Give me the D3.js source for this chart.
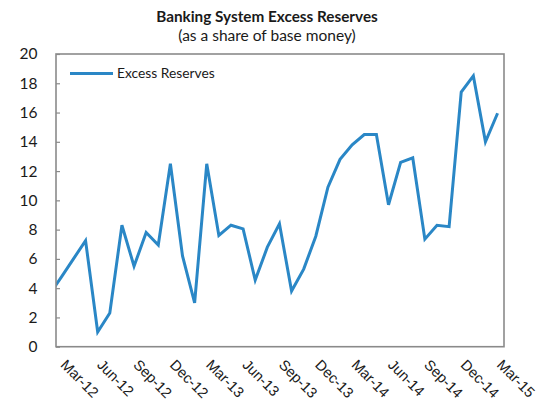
<!DOCTYPE html>
<html>
<head>
<meta charset="utf-8">
<script src="https://cdn.jsdelivr.net/npm/d3@7"></script>
<style>
  html, body { margin: 0; padding: 0; background: #fff; }
  svg { display: block; font-family: Lato, "Open Sans", sans-serif; }
</style>
</head>
<body>
<svg id="chart" width="539" height="413"></svg>
<script>
// Monthly observations; the first (Feb-12) sits just left of the axis and is clipped.
const months = [
  "Feb-12","Mar-12","Apr-12","May-12","Jun-12","Jul-12","Aug-12","Sep-12","Oct-12","Nov-12","Dec-12",
  "Jan-13","Feb-13","Mar-13","Apr-13","May-13","Jun-13","Jul-13","Aug-13","Sep-13","Oct-13","Nov-13","Dec-13",
  "Jan-14","Feb-14","Mar-14","Apr-14","May-14","Jun-14","Jul-14","Aug-14","Sep-14","Oct-14","Nov-14","Dec-14",
  "Jan-15","Feb-15","Mar-15"
];
const excessReserves = [
  3.55, 4.75, 6.0, 7.25, 1.0, 2.3, 8.3, 5.5, 7.8, 6.95, 12.5,
  6.2, 3.0, 12.5, 7.6, 8.3, 8.05, 4.55, 6.8, 8.4, 3.8, 5.3, 7.55,
  10.9, 12.8, 13.8, 14.5, 14.5, 9.7, 12.6, 12.9, 7.35, 8.3, 8.2, 17.4,
  18.5, 14.0, 15.95
];
const xTickLabels = ["Mar-12","Jun-12","Sep-12","Dec-12","Mar-13","Jun-13","Sep-13","Dec-13","Mar-14","Jun-14","Sep-14","Dec-14","Mar-15"];
const yTicks = [0, 2, 4, 6, 8, 10, 12, 14, 16, 18, 20];
const seriesName = "Excess Reserves";

const svg = d3.select("#chart");
const plot = { left: 56, right: 504, top: 54, bottom: 346.7 };
const lineColor = "#2a87c6";
const textColor = "#1a1a1a";

// month position: index in the months array, Mar-12 = 1
const x = d3.scaleLinear().domain([0.56, 37.53]).range([plot.left, plot.right]);
const y = d3.scaleLinear().domain([0, 20]).range([plot.bottom, plot.top]);

// Titles
svg.append("text")
  .attr("x", 267).attr("y", 21.5)
  .attr("text-anchor", "middle")
  .attr("font-weight", "bold").attr("font-size", 15.3)
  .attr("fill", textColor)
  .text("Banking System Excess Reserves");
svg.append("text")
  .attr("x", 267).attr("y", 40.5)
  .attr("text-anchor", "middle")
  .attr("font-size", 15.5)
  .attr("fill", textColor)
  .text("(as a share of base money)");

// Clip for the series
svg.append("clipPath").attr("id", "plot-clip")
  .append("rect")
  .attr("x", plot.left).attr("y", plot.top)
  .attr("width", plot.right - plot.left).attr("height", plot.bottom - plot.top);

// Line
const line = d3.line()
  .x((d, i) => x(i))
  .y(d => y(d));
svg.append("path")
  .datum(excessReserves)
  .attr("clip-path", "url(#plot-clip)")
  .attr("fill", "none")
  .attr("stroke", lineColor)
  .attr("stroke-width", 3)
  .attr("stroke-linejoin", "miter")
  .attr("d", line);

// Plot frame
svg.append("rect")
  .attr("x", plot.left).attr("y", plot.top)
  .attr("width", plot.right - plot.left).attr("height", plot.bottom - plot.top)
  .attr("fill", "none")
  .attr("stroke", "#8a8a8a")
  .attr("stroke-width", 1.6);

// Y axis: inside ticks, labels to the left
const yAxis = svg.append("g")
  .attr("transform", `translate(${plot.left},0)`)
  .call(d3.axisLeft(y).tickValues(yTicks).tickSizeInner(-4).tickSizeOuter(0).tickPadding(18.5));
yAxis.select(".domain").remove();
yAxis.selectAll(".tick line").attr("stroke", "#8a8a8a").attr("stroke-width", 1.2);
yAxis.selectAll(".tick text")
  .attr("font-size", 15.5).attr("fill", textColor)
  .style("font-family", "Lato, sans-serif");

// X axis: rotated month labels every quarter
const xAxis = svg.append("g")
  .attr("transform", `translate(0,${plot.bottom})`)
  .call(d3.axisBottom(x)
    .tickValues(xTickLabels.map(l => months.indexOf(l)))
    .tickFormat(i => months[i])
    .tickSize(0));
xAxis.select(".domain").remove();
xAxis.selectAll(".tick text")
  .attr("font-size", 14.6).attr("fill", textColor)
  .attr("text-anchor", "start")
  .attr("x", 0).attr("y", 0).attr("dy", 0)
  .attr("transform", "translate(-2,19) rotate(45)");

// Legend
const legend = svg.append("g").attr("transform", "translate(70,73.5)");
legend.append("line")
  .attr("x1", 0).attr("x2", 43).attr("y1", 0).attr("y2", 0)
  .attr("stroke", lineColor).attr("stroke-width", 3);
legend.append("text")
  .attr("x", 47).attr("y", 4.5)
  .attr("font-size", 13.8).attr("fill", textColor)
  .text(seriesName);
</script>
</body>
</html>
